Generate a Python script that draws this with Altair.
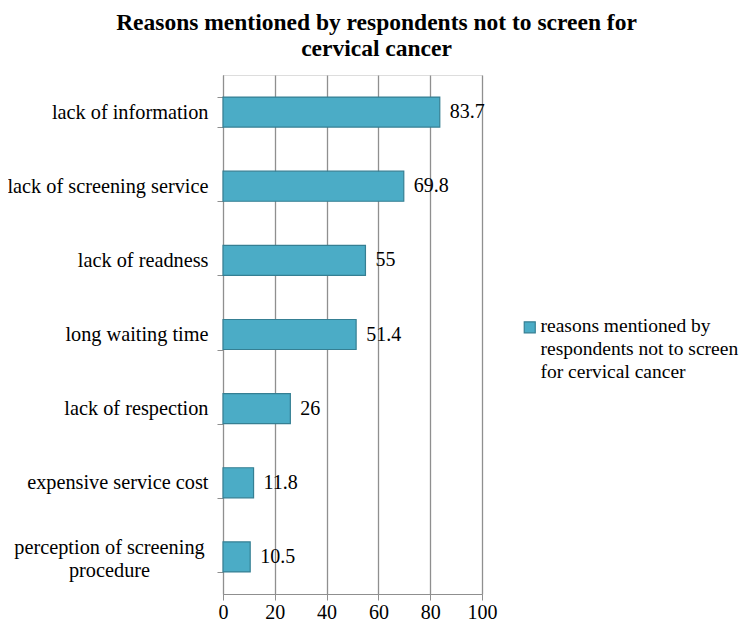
import altair as alt
import pandas as pd

categories = [
    "lack of information",
    "lack of screening service",
    "lack of readness",
    "long waiting time",
    "lack of respection",
    "expensive service cost",
    "perception of screening|procedure",
]
values = [83.7, 69.8, 55, 51.4, 26, 11.8, 10.5]
series_name = "reasons mentioned by|respondents not to screen|for cervical cancer"
x_ticks = [0, 20, 40, 60, 80, 100]

df = pd.DataFrame({"reason": categories, "value": values, "series": series_name})

FONT = "Liberation Serif"
BAR = "#4bacc6"
BAR_STROKE = "#357f93"
GRID = "#8f8f8f"
MULTI = "indexof(datum.label, '|') >= 0"

y_enc = alt.Y(
    "reason:N",
    sort=None,
    title=None,
    scale=alt.Scale(paddingInner=0.595, paddingOuter=0.2975),
    axis=alt.Axis(
        labelExpr="split(datum.label, '|')",
        labelFont=FONT,
        labelFontSize=20.3,
        labelColor="#000000",
        labelLineHeight=23,
        labelAlign={"condition": {"test": MULTI, "value": "center"}, "value": "right"},
        labelPadding={"condition": {"test": MULTI, "value": 108}, "value": 9},
        labelOffset={"condition": {"test": MULTI, "value": -9}, "value": 0},
        labelLimit=400,
        ticks=True,
        tickBand="extent",
        tickSize=6,
        tickColor=GRID,
        domainColor=GRID,
        grid=False,
    ),
)

bars = alt.Chart(df).mark_bar(stroke=BAR_STROKE, strokeWidth=1.2).encode(
    y=y_enc,
    x=alt.X(
        "value:Q",
        title=None,
        scale=alt.Scale(domain=[0, 100], nice=False),
        axis=alt.Axis(
            values=x_ticks,
            labelFont=FONT,
            labelFontSize=20,
            labelColor="#000000",
            labelPadding=2,
            labelFlush=False,
            tickSize=6,
            tickColor=GRID,
            domainColor=GRID,
            gridColor=GRID,
            gridWidth=1.3,
            gridOpacity=1,
        ),
    ),
    color=alt.Color(
        "series:N",
        scale=alt.Scale(range=[BAR]),
        legend=alt.Legend(
            title=None,
            orient="none",
            legendX=297,
            legendY=247,
            padding=0,
            labelExpr="split(datum.label, '|')",
            labelFont=FONT,
            labelFontSize=19.5,
            labelColor="#000000",
            labelBaseline="alphabetic",
            labelLimit=400,
            labelOffset=1,
            symbolType="M-1,-1.8H1V0.2H-1Z",
            symbolSize=121,
            symbolStrokeColor=BAR_STROKE,
            symbolStrokeWidth=1.2,
            symbolFillColor=BAR,
            symbolOpacity=1,
        ),
    ),
)

labels = alt.Chart(df).mark_text(
    align="left", baseline="middle", dx=10, font=FONT, fontSize=20, color="#000000"
).encode(
    y=alt.Y("reason:N", sort=None),
    x=alt.X("value:Q"),
    text=alt.Text("value:Q", format="~f"),
)

chart = (
    alt.layer(bars, labels)
    .properties(
        width=259,
        height=519,
        autosize=alt.AutoSizeParams(type="none"),
        padding={"left": 215, "top": 67, "right": 260, "bottom": 28},
        title=alt.TitleParams(
            text=["Reasons mentioned by respondents not to screen for", "cervical cancer"],
            font=FONT,
            fontSize=23.5,
            fontWeight="bold",
            color="#000000",
            anchor="middle",
            frame="group",
            dx=24,
            offset=5,
            lineHeight=26,
        ),
    )
    .configure_view(fill="#e9eff3", stroke=None)
    .configure(style={"guide-label": {"lineHeight": 23}})
)

chart.save("out.html", embed_options={"renderer": "svg", "actions": False})
